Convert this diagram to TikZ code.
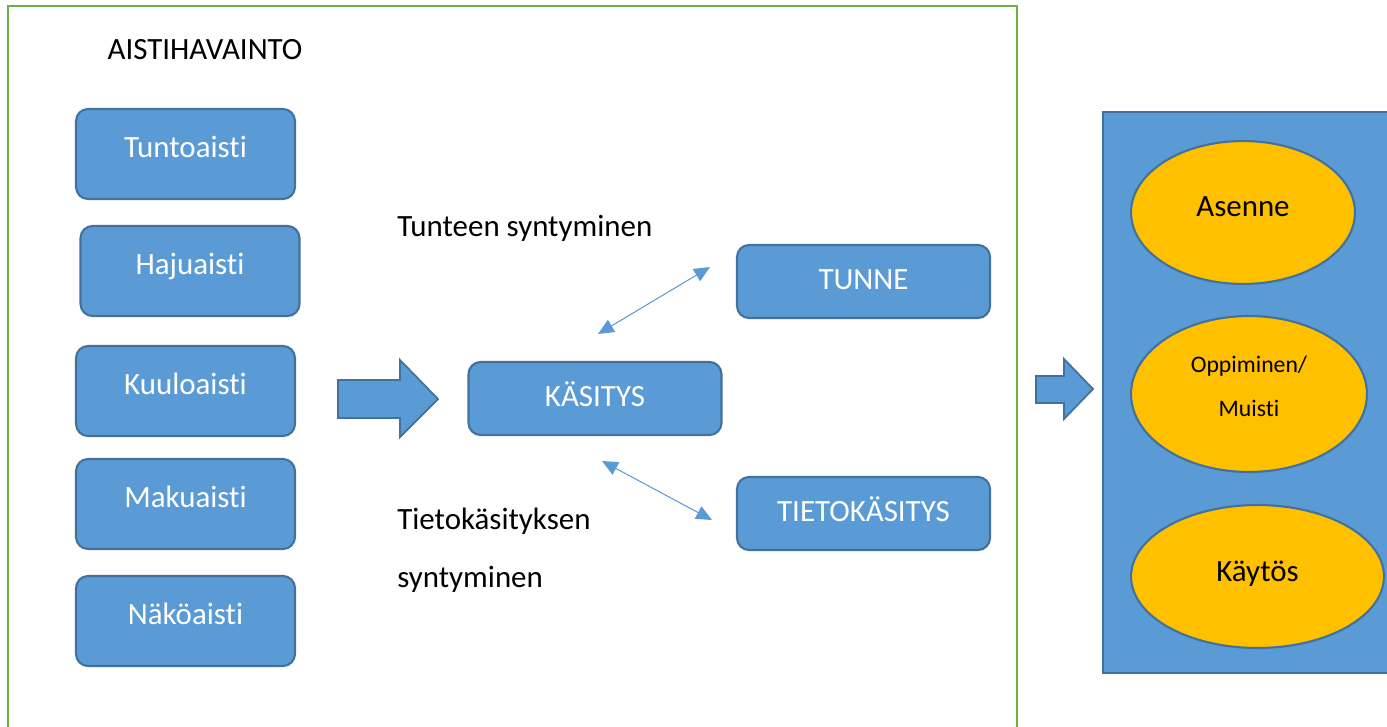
\documentclass[tikz,border=0pt]{standalone}
\usepackage{fontspec}
\setmainfont{Carlito}[RawFeature={-liga;-clig;-calt;-dlig}]
\usetikzlibrary{arrows.meta,positioning,shapes.geometric}

\definecolor{boxblue}{HTML}{5B9BD5}
\definecolor{boxline}{HTML}{41719C}
\definecolor{framegreen}{HTML}{70AD47}
\definecolor{ovalyellow}{HTML}{FFC000}

\begin{document}
\begin{tikzpicture}[x=0.02cm,y=-0.02cm,
        sense/.style = {draw=boxline, fill=boxblue, line width=1.2pt, rounded corners=0.24cm,
                        text=white, minimum width=4.38cm, minimum height=1.8cm, inner sep=0pt,
                        text height=0.45cm, text depth=0.32cm},
        concept/.style = {sense, minimum width=5.06cm, minimum height=1.46cm, text height=0.42cm, text depth=0.1cm},
        oval/.style = {draw=boxline, fill=ovalyellow, ellipse, line width=1.2pt, inner sep=0pt},
        label/.style = {text=black, inner sep=0pt},
        bigarrow/.style = {draw=boxline, fill=boxblue, line width=1pt},
        link/.style = {draw=boxblue, line width=0.6pt, {Triangle[length=9pt,width=8pt]}-{Triangle[length=9pt,width=8pt]}},]
        \clip (0,0) rectangle (1387,727);
        \fontsize{17.6}{21}\selectfont

        % frame
        \draw[framegreen, line width=1.5pt] (8,6) rectangle (1017,760);
        \node[label] (title) at (205,50) {AISTIHAVAINTO};

        % senses
        \node[sense] (tunto) at (185.5,154) {Tuntoaisti};
        \node[sense] (haju) at (190,271) {Hajuaisti};
        \node[sense] (kuulo) at (185.5,391) {Kuuloaisti};
        \node[sense] (maku) at (185.5,504) {Makuaisti};
        \node[sense] (nako) at (185.5,621) {Näköaisti};

        \draw[bigarrow] (338,380) -- (400,380) -- (400,360) -- (438,399) -- (400,437) -- (400,418) -- (338,418) -- cycle;

        \node[concept] (kasitys) at (595,398.5) {KÄSITYS};
        \node[concept] (tunne) at (863.5,281.5) {TUNNE};
        \node[concept] (tieto) at (863.5,513.5) {TIETOKÄSITYS};

        \node[label, anchor=west] (tunlab) at (397,228) {Tunteen syntyminen};
        \node[label, anchor=west, align=left, font=\fontsize{17.6}{33}\selectfont] (tietolab) at (397,550) {Tietokäsityksen\\syntyminen};

        \coordinate (k1) at (598,334);
        \coordinate (t1) at (710,267);
        \coordinate (k2) at (602,461);
        \coordinate (t2) at (712,520);
        \draw[link] (k1) -- (t1);
        \draw[link] (k2) -- (t2);

        \draw[bigarrow] (1036,376) -- (1064,376) -- (1064,359) -- (1093,389) -- (1064,419) -- (1064,403) -- (1036,403) -- cycle;

        % results
        \draw[draw=boxline, fill=boxblue, line width=1.2pt] (1103,112) rectangle (1400,673);
        \node[oval, minimum width=4.48cm, minimum height=2.86cm, text depth=0.24cm] (asenne) at (1243,212.5) {Asenne};
        \node[oval, minimum width=4.72cm, minimum height=3.12cm, align=center, text depth=0.3cm,
              font=\fontsize{13.5}{25}\selectfont] (oppi) at (1249,394) {Oppiminen/\\Muisti};
        \node[oval, minimum width=5.06cm, minimum height=2.86cm, text depth=0.22cm] (kaytos) at (1257.5,576.5) {Käytös};
    \end{tikzpicture}
\end{document}
